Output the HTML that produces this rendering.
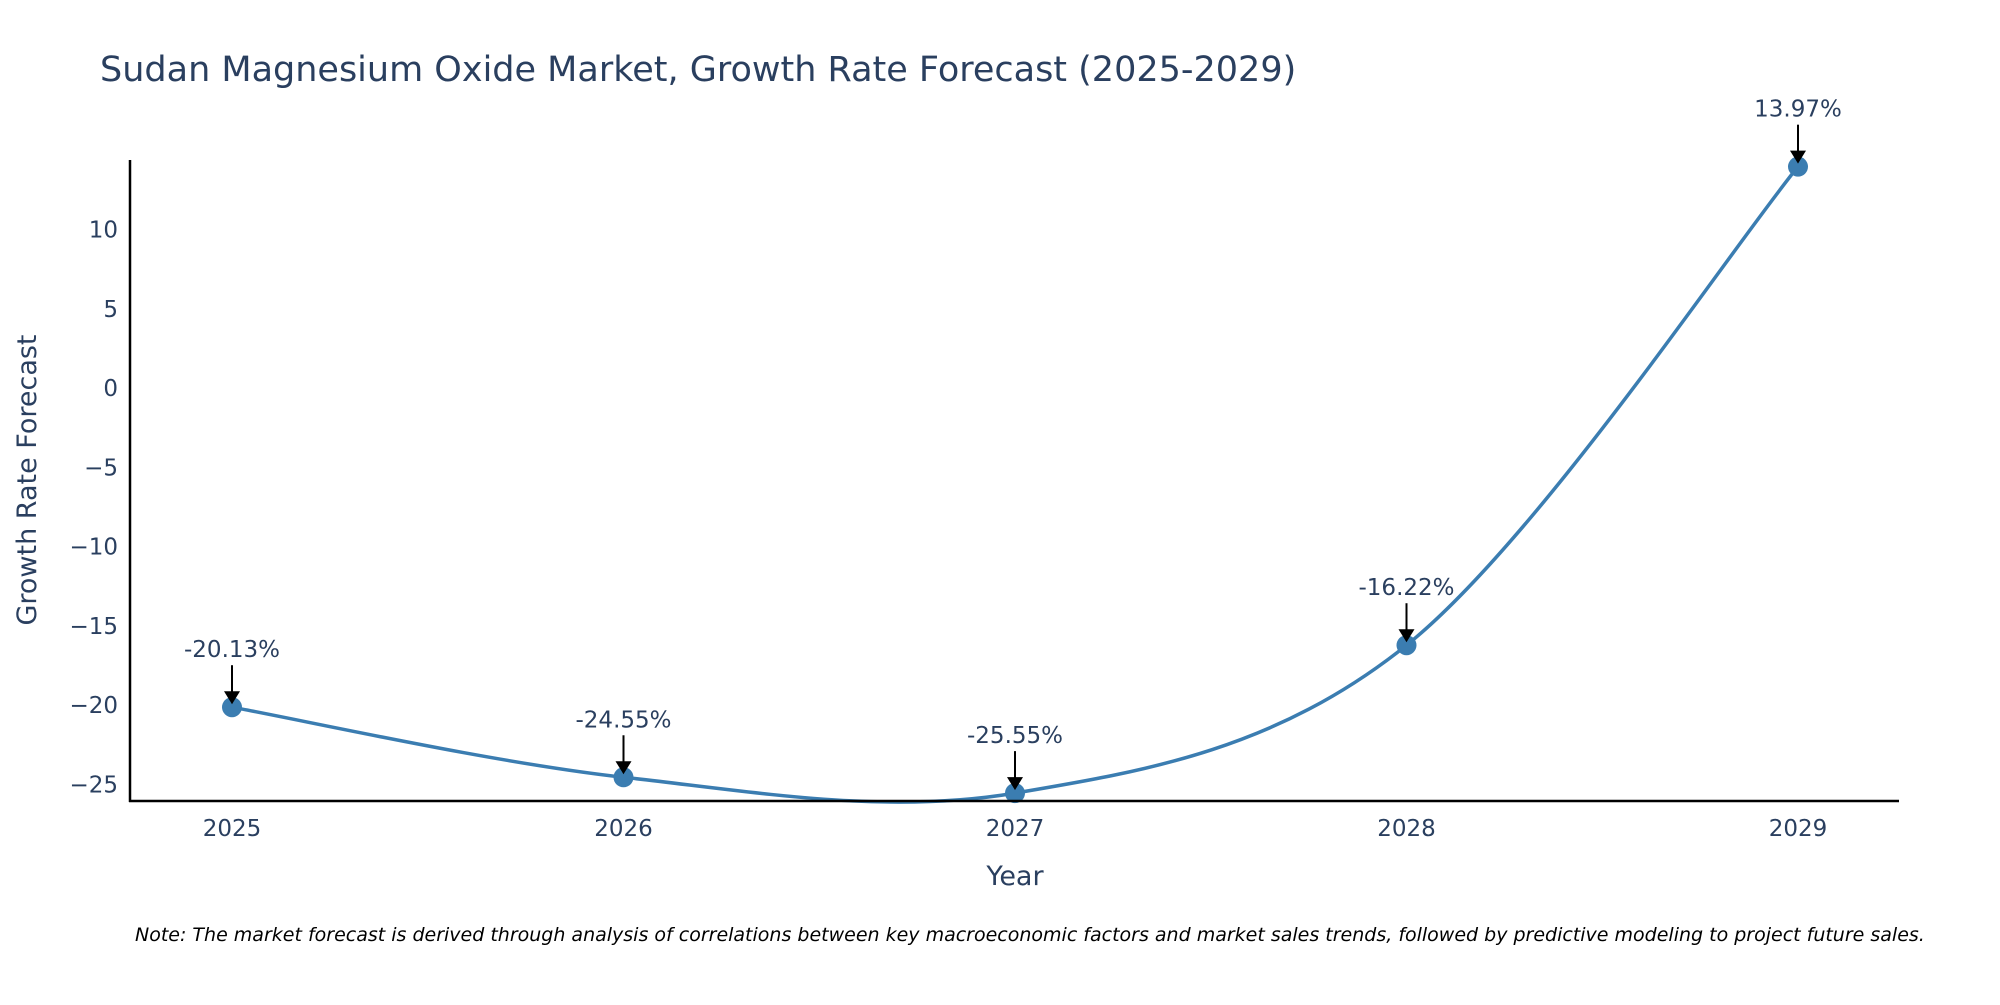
<!DOCTYPE html>
<html><head><meta charset="utf-8"><style>
body{margin:0;background:#fff}
svg text{font-family:"DejaVu Sans","Liberation Sans",sans-serif;fill:#2a3f5f}
</style></head><body>
<svg id="chart" width="2000" height="1000" xmlns="http://www.w3.org/2000/svg">
<text x="100" y="81" font-size="35">Sudan Magnesium Oxide Market, Growth Rate Forecast (2025-2029)</text>
<g id="yticks"></g>
<g id="xticks"></g>
<path id="line" fill="none" stroke="#3b7db1" stroke-width="3.5"></path>
<g id="marks"></g>
<g id="ann"></g>
<line x1="130" y1="160" x2="130" y2="802" stroke="#000" stroke-width="2.5"/>
<line x1="129" y1="801" x2="1899" y2="801" stroke="#000" stroke-width="2.5"/>
<text x="1015" y="885" font-size="27" text-anchor="middle">Year</text>
<text transform="translate(36,480) rotate(-90)" font-size="27" text-anchor="middle">Growth Rate Forecast</text>
<text x="135" y="941" font-size="19" font-style="italic" style="fill:#000">Note: The market forecast is derived through analysis of correlations between key macroeconomic factors and market sales trends, followed by predictive modeling to project future sales.</text>
</svg>
<script>
const years=[2025,2026,2027,2028,2029];
const growth=[-20.13,-24.55,-25.55,-16.22,13.97];
const labels=["-20.13%","-24.55%","-25.55%","-16.22%","13.97%"];
const yTicks=[10,5,0,-5,-10,-15,-20,-25];
const NS="http://www.w3.org/2000/svg";
const xS=v=>232+(v-2025)*(1798-232)/4;
const yS=v=>229.6+(10-v)*(784.4-229.6)/35;
function mk(t,a,p){const e=document.createElementNS(NS,t);for(const k in a)e.setAttribute(k,a[k]);p.appendChild(e);return e;}
const yt=document.getElementById('yticks');
yTicks.forEach(v=>{const t=mk('text',{x:118,y:yS(v)+8,'font-size':23,'text-anchor':'end'},yt);


t.textContent=String(v).replace('-','\u2212');});
const xt=document.getElementById('xticks');
years.forEach(v=>{const t=mk('text',{x:xS(v),y:836,'font-size':23,'text-anchor':'middle'},xt);


t.textContent=v;});
const P=years.map((y,i)=>[xS(y),yS(growth[i])]);
let d='M'+P[0][0]+','+P[0][1];
for(let i=0;i<P.length-1;i++){const p0=P[Math.max(0,i-1)],p1=P[i],p2=P[i+1],p3=P[Math.min(P.length-1,i+2)];
const k=1/6;
d+=' C'+(p1[0]+(p2[0]-p0[0])*k)+','+(p1[1]+(p2[1]-p0[1])*k)+' '+(p2[0]-(p3[0]-p1[0])*k)+','+(p2[1]-(p3[1]-p1[1])*k)+' '+p2[0]+','+p2[1];}
document.getElementById('line').setAttribute('d',d);
const mg=document.getElementById('marks'),an=document.getElementById('ann');
P.forEach((p,i)=>{const c=mk('circle',{cx:p[0],cy:p[1],r:10,fill:'#3b7db1'},mg);


const l=mk('line',{x1:p[0],y1:p[1]-42,x2:p[0],y2:p[1]-14,stroke:'#000','stroke-width':2},an);


const h=mk('polygon',{points:(p[0]-8)+','+(p[1]-16)+' '+(p[0]+8)+','+(p[1]-16)+' '+p[0]+','+(p[1]-3),fill:'#000'},an);


const t=mk('text',{x:p[0],y:p[1]-50,'font-size':23,'text-anchor':'middle'},an);


t.textContent=labels[i];});
</script>
</body></html>
